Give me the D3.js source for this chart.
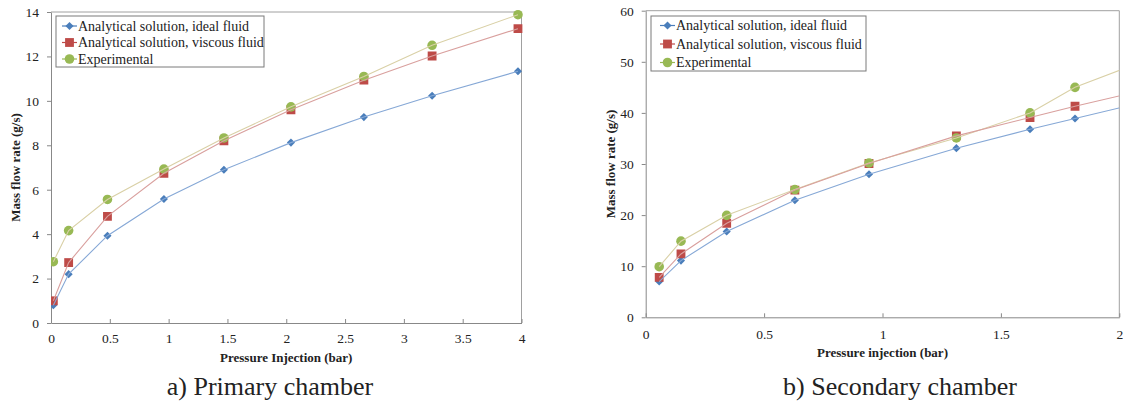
<!DOCTYPE html>
<html>
<head>
<meta charset="utf-8">
<script src="https://cdn.jsdelivr.net/npm/d3@7"></script>
<style>
  body { margin: 0; background: #fff; }
</style>
</head>
<body>
<script>
// Primary chamber data
var primX = [0.02, 0.15, 0.48, 0.96, 1.47, 2.04, 2.66, 3.24, 3.97];
var primIdeal = [0.8, 2.2, 3.93, 5.58, 6.9, 8.12, 9.27, 10.23, 11.33];
var primViscous = [1.0, 2.72, 4.8, 6.74, 8.2, 9.6, 10.93, 12.02, 13.25];
var primExp = [2.76, 4.16, 5.56, 6.93, 8.33, 9.73, 11.1, 12.5, 13.88];

// Secondary chamber data (last point lies past the axis end and is clipped)
var secX = [0.057, 0.149, 0.342, 0.63, 0.943, 1.312, 1.623, 1.813, 2.1];
var secIdeal = [7.0, 11.1, 16.8, 22.9, 28.0, 33.1, 36.8, 38.9, 42.1];
var secViscous = [7.8, 12.4, 18.4, 24.9, 30.1, 35.5, 39.1, 41.3, 44.4];
var secExp = [9.9, 14.9, 19.95, 25.0, 30.2, 35.1, 40.0, 45.0, 50.1];

var seriesNames = ["Analytical solution, ideal fluid", "Analytical solution, viscous fluid", "Experimental"];
var primXTicks = [0, 0.5, 1, 1.5, 2, 2.5, 3, 3.5, 4];
var primYTicks = [0, 2, 4, 6, 8, 10, 12, 14];
var secXTicks = [0, 0.5, 1, 1.5, 2];
var secYTicks = [0, 10, 20, 30, 40, 50, 60];

var FONT = '"Liberation Serif", "Times New Roman", serif';
var markerColors = ["#4a7ebb", "#be4b48", "#98b954"];
var lineColors = ["#86a8d6", "#d9a09e", "#d9d0a6"];
var symbols = [d3.symbolDiamond2, d3.symbolSquare, d3.symbolCircle];
var symbolSizes = [42, 78, 72];

var svg = d3.select("body").append("svg")
  .attr("width", 1126)
  .attr("height", 405)
  .style("font-family", FONT);

function drawChart(opt) {
  var x = d3.scaleLinear().domain(opt.xDomain).range([opt.left, opt.right]);
  var y = d3.scaleLinear().domain(opt.yDomain).range([opt.bottom, opt.top]);
  var g = svg.append("g");

  // plot border (top and right)
  g.append("path")
    .attr("d", `M${opt.left},${opt.top}H${opt.right}V${opt.bottom}`)
    .attr("fill", "none")
    .attr("stroke", "#a0a0a0");

  var xAxis = g.append("g")
    .attr("transform", `translate(0,${opt.bottom})`)
    .call(d3.axisTop(x).tickValues(opt.xTicks).tickSize(4).tickSizeOuter(0).tickFormat(d3.format("")));
  xAxis.selectAll(".tick text").attr("y", opt.xLabelDy).attr("dy", "0.71em");

  var yAxis = g.append("g")
    .attr("transform", `translate(${opt.left},0)`)
    .call(d3.axisLeft(y).tickValues(opt.yTicks).tickSize(4).tickSizeOuter(0).tickPadding(8));

  g.selectAll(".tick text")
    .style("font-family", FONT)
    .style("font-size", "13.5px")
    .attr("fill", "#222");
  g.selectAll(".domain").attr("stroke", "#888");
  g.selectAll(".tick line").attr("stroke", "#888");

  var clipId = "clip" + opt.id;
  svg.append("clipPath").attr("id", clipId)
    .append("rect")
    .attr("x", opt.left).attr("y", opt.top - 6)
    .attr("width", opt.right - opt.left + 6).attr("height", opt.bottom - opt.top + 12);
  svg.append("clipPath").attr("id", clipId + "l")
    .append("rect")
    .attr("x", opt.left).attr("y", opt.top)
    .attr("width", opt.right - opt.left).attr("height", opt.bottom - opt.top);

  var plot = g.append("g").attr("clip-path", `url(#${clipId})`);
  var line = d3.line().x(d => x(d[0])).y(d => y(d[1]));

  [2, 1, 0].forEach(function(i) {
    var pts = opt.xs.map((v, k) => [v, opt.series[i][k]]);
    g.append("path")
      .datum(pts)
      .attr("clip-path", `url(#${clipId}l)`)
      .attr("d", line)
      .attr("fill", "none")
      .attr("stroke", lineColors[i])
      .attr("stroke-width", 1.1);
  });
  [0, 1, 2].forEach(function(i) {
    var pts = opt.xs.map((v, k) => [v, opt.series[i][k]]).filter(d => d[0] <= opt.xDomain[1]);
    plot.selectAll(".m" + i)
      .data(pts)
      .enter()
      .append("path")
      .attr("transform", d => `translate(${x(d[0])},${y(d[1])})`)
      .attr("d", d3.symbol().type(symbols[i]).size(symbolSizes[i]))
      .attr("fill", markerColors[i]);
  });

  // legend
  var lg = g.append("g");
  lg.append("rect")
    .attr("x", opt.legend.x).attr("y", opt.legend.y)
    .attr("width", opt.legend.w).attr("height", opt.legend.h)
    .attr("fill", "#fff").attr("stroke", "#7a7a7a");
  seriesNames.forEach(function(name, i) {
    var ly = opt.legend.y + opt.legend.first + i * opt.legend.step;
    var lx = opt.legend.x + opt.legend.pad;
    lg.append("line")
      .attr("x1", lx).attr("x2", lx + 15)
      .attr("y1", ly).attr("y2", ly)
      .attr("stroke", markerColors[i]).attr("stroke-width", 1.2);
    lg.append("path")
      .attr("transform", `translate(${lx + 7.5},${ly})`)
      .attr("d", d3.symbol().type(symbols[i]).size(symbolSizes[i]))
      .attr("fill", markerColors[i]);
    lg.append("text")
      .attr("x", lx + 16).attr("y", ly)
      .attr("dy", "0.35em")
      .style("font-family", FONT)
      .style("font-size", "14px")
      .attr("fill", "#222")
      .text(name);
  });

  // axis titles
  g.append("text")
    .attr("text-anchor", "middle")
    .attr("x", (opt.left + opt.right) / 2)
    .attr("y", opt.xTitleY)
    .style("font-family", FONT)
    .style("font-size", "13px")
    .style("font-weight", "bold")
    .attr("fill", "#222")
    .text(opt.xTitle);

  g.append("text")
    .attr("text-anchor", "middle")
    .attr("transform", `translate(${opt.yTitleX},${(opt.top + opt.bottom) / 2}) rotate(-90)`)
    .style("font-family", FONT)
    .style("font-size", "13px")
    .style("font-weight", "bold")
    .attr("fill", "#222")
    .text("Mass flow rate (g/s)");

  g.append("text")
    .attr("text-anchor", "middle")
    .attr("x", opt.captionX)
    .attr("y", 395)
    .style("font-family", FONT)
    .style("font-size", "26px")
    .attr("fill", "#222")
    .text(opt.caption);
}

drawChart({
  id: "a",
  left: 51, right: 521.5, top: 12, bottom: 323,
  xDomain: [0, 4], yDomain: [0, 14],
  xTicks: primXTicks, yTicks: primYTicks,
  xs: primX, series: [primIdeal, primViscous, primExp],
  xLabelDy: 10,
  legend: { x: 56, y: 16, w: 208, h: 51, first: 10, step: 16.5, pad: 6 },
  xTitle: "Pressure Injection (bar)", xTitleY: 362,
  yTitleX: 20,
  caption: "a) Primary chamber", captionX: 270
});

drawChart({
  id: "b",
  left: 645.7, right: 1119.3, top: 10.7, bottom: 317.3,
  xDomain: [0, 2], yDomain: [0, 60],
  xTicks: secXTicks, yTicks: secYTicks,
  xs: secX, series: [secIdeal, secViscous, secExp],
  xLabelDy: 12,
  legend: { x: 651, y: 16, w: 215, h: 55, first: 9.5, step: 18.5, pad: 9 },
  xTitle: "Pressure injection (bar)", xTitleY: 357,
  yTitleX: 615,
  caption: "b) Secondary chamber", captionX: 900
});
</script>
</body>
</html>
